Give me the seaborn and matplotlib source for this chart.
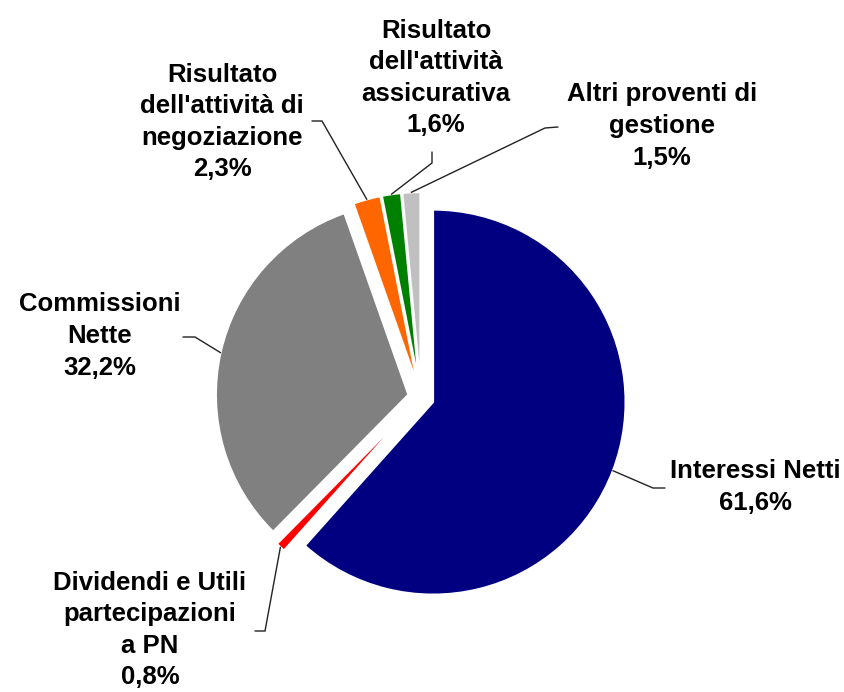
import matplotlib
matplotlib.use("Agg")
import matplotlib.pyplot as plt
import seaborn as sns
import numpy as np

# ---------------- data ----------------
categories = [
    "Interessi Netti",
    "Dividendi e Utili\npartecipazioni\na PN",
    "Commissioni\nNette",
    "Risultato\ndell'attività di\nnegoziazione",
    "Risultato\ndell'attività\nassicurativa",
    "Altri proventi di\ngestione",
]
shares = [61.6, 0.8, 32.2, 2.3, 1.6, 1.5]
value_labels = ["61,6%", "0,8%", "32,2%", "2,3%", "1,6%", "1,5%"]
colors = ["#000080", "#FF0000", "#808080", "#FF6600", "#008000", "#C0C0C0"]

# ---------------- layout (reference pixel coordinates) ----------------
W, H = 845, 692
CX, CY = 421.0, 397.5      # pie centre in pixels
R_PX = 192.5               # radius in pixels
label_centers = [(755, 487), (150, 630), (100, 336), (222, 122), (436, 78), (662, 126)]
leader_elbows = [(653, 488), (265, 631), (195, 337), (322, 121), (432, 163), (545, 128)]
leader_ends = [(665, 488), (255, 631), (183, 337), (312, 121), (432, 152), (558, 127)]


def px2d(p):
    return ((p[0] - CX) / R_PX, (CY - p[1]) / R_PX)


sns.set_theme(style="white")
plt.rcParams["font.family"] = ["Liberation Sans", "DejaVu Sans"]

fig = plt.figure(figsize=(W / 100, H / 100), dpi=100)
ax = fig.add_axes([0, 0, 1, 1])

wedges, _ = ax.pie(
    shares,
    colors=colors,
    startangle=90,
    counterclock=False,
    explode=[0.067] * len(shares),
    radius=1.0,
    wedgeprops=dict(edgecolor="white", linewidth=1.5),
)

ax.set_xlim(-CX / R_PX, (W - CX) / R_PX)
ax.set_ylim(-(H - CY) / R_PX, CY / R_PX)
ax.set_aspect("auto")
ax.axis("off")

for i, w in enumerate(wedges):
    mid = np.deg2rad((w.theta1 + w.theta2) / 2)
    sx = w.center[0] + w.r * np.cos(mid)
    sy = w.center[1] + w.r * np.sin(mid)
    ex, ey = px2d(leader_elbows[i])
    tx, ty = px2d(leader_ends[i])
    ax.plot([sx, ex, tx], [sy, ey, ty], color="#222222", lw=1.0,
            solid_joinstyle="miter", zorder=1)
    lx, ly = px2d(label_centers[i])
    ax.text(lx, ly, categories[i] + "\n" + value_labels[i],
            ha="center", va="center", multialignment="center",
            fontsize=18.5, fontweight="bold", color="black",
            linespacing=1.4)

fig.savefig("out.png", dpi=100, facecolor="white")
